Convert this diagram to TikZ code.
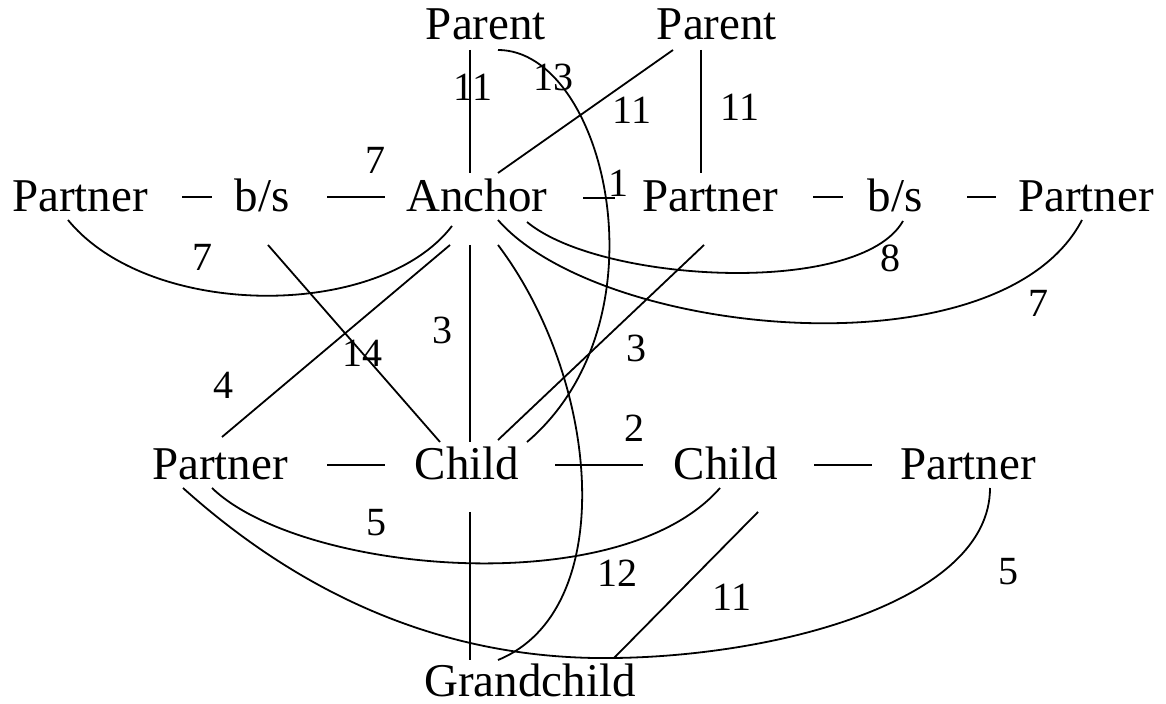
\documentclass[tikz,border=0pt]{standalone}
\usepackage{fontspec}
\setmainfont{Liberation Serif}
\usetikzlibrary{calc}
\begin{document}
\begin{tikzpicture}[x=0.5pt,y=-0.5pt,line width=0.9pt,
  term/.style={font=\fontsize{23.5}{28}\selectfont,anchor=base,inner sep=0pt},
  num/.style={font=\fontsize{20}{24}\selectfont,inner sep=0pt},
  link/.style={draw=black,line width=0.9pt}]
\useasboundingbox (0,0) rectangle (1166,704);
% nodes (placed at baseline centre)
\node[term] (P1) at (486,40) {Parent};
\node[term] (P2) at (717,40) {Parent};
\node[term] (PL) at (80,212) {Partner};
\node[term] (BL) at (262,212) {b/s};
\node[term] (A)  at (477,212) {Anchor};
\node[term] (PM) at (710,212) {Partner};
\node[term] (BR) at (895,212) {b/s};
\node[term] (PR) at (1086,212) {Partner};
\node[term] (QL) at (220,480) {Partner};
\node[term] (C1) at (467,480) {Child};
\node[term] (C2) at (726,480) {Child};
\node[term] (QR) at (968,480) {Partner};
\node[term] (G)  at (530,696) {Grandchild};
% straight connectors
\draw[link] ($(P1.base)+(-16,10)$) -- ($(A.base)+(-7,-39)$);
\draw[link] ($(P2.base)+(-44,10)$) -- ($(A.base)+(21,-39)$);
\draw[link] ($(P2.base)+(-16,10)$) -- ($(PM.base)+(-9,-39)$);
\draw[link] ($(PL.base)+(102,-15)$) -- ($(BL.base)+(-50,-15)$);
\draw[link] ($(BL.base)+(65,-15)$) -- ($(A.base)+(-92,-15)$);
\draw[link] ($(A.base)+(106,-14)$) -- ($(PM.base)+(-95,-14)$);
\draw[link] ($(PM.base)+(103,-15)$) -- ($(BR.base)+(-52,-15)$);
\draw[link] ($(BR.base)+(72,-15)$) -- ($(PR.base)+(-90,-15)$);
\draw[link] ($(A.base)+(-7,33)$) -- ($(C1.base)+(3,-38)$);
\draw[link] ($(BL.base)+(6,33)$) -- ($(C1.base)+(-27,-38)$);
\draw[link] ($(A.base)+(-27,33)$) -- ($(QL.base)+(2,-43)$);
\draw[link] ($(PM.base)+(-6,33)$) -- ($(C1.base)+(31,-40)$);
\draw[link] ($(QL.base)+(107,-15)$) -- ($(C1.base)+(-82,-15)$);
\draw[link] ($(C1.base)+(88,-15)$) -- ($(C2.base)+(-83,-15)$);
\draw[link] ($(C2.base)+(88,-15)$) -- ($(QR.base)+(-96,-15)$);
\draw[link] ($(C2.base)+(32,32)$) -- ($(G.base)+(84,-38)$);
\draw[link] ($(C1.base)+(3,32)$) -- ($(G.base)+(-60,-36)$);
% curved connectors
\draw[link] ($(P1.base)+(12,10)$) .. controls (605,50) and (670,320) .. ($(C1.base)+(60,-38)$);
\draw[link] ($(PL.base)+(-12,8)$) .. controls (150,320) and (380,320) .. ($(A.base)+(-25,14)$);
\draw[link] ($(A.base)+(50,10)$) .. controls (600,283) and (860,297) .. ($(BR.base)+(8,9)$);
\draw[link] ($(A.base)+(21,8)$) .. controls (600,337) and (1000,377) .. ($(PR.base)+(-4,8)$);
\draw[link] ($(A.base)+(21,33)$) .. controls (600,380) and (620,610) .. ($(G.base)+(-32,-36)$);
\draw[link] ($(QL.base)+(-8,8)$) .. controls (300,573) and (620,603) .. ($(C2.base)+(-6,8)$);
\draw[link] ($(QL.base)+(-37,8)$) .. controls (330,620) and (480,660) .. (614,658)
  .. controls (780,656) and (990,600) .. ($(QR.base)+(22,8)$);
% labels
\node[num] (n1)  at (473,87)  {11};
\node[num] (n2)  at (553,77)  {13};
\node[num] (n3)  at (632,110) {11};
\node[num] (n4)  at (740,107) {11};
\node[num] (n5)  at (375,160) {7};
\node[num] (n6)  at (618,183) {1};
\node[num] (n7)  at (202,257) {7};
\node[num] (n8)  at (890,258) {8};
\node[num] (n9)  at (1038,303) {7};
\node[num] (n10) at (442,330) {3};
\node[num] (n11) at (362,353) {14};
\node[num] (n12) at (223,385) {4};
\node[num] (n13) at (636,348) {3};
\node[num] (n14) at (617,573) {12};
\node[num] (n15) at (634,428) {2};
\node[num] (n16) at (376,523) {5};
\node[num] (n17) at (1008,572) {5};
\node[num] (n18) at (732,597) {11};
\end{tikzpicture}
\end{document}
